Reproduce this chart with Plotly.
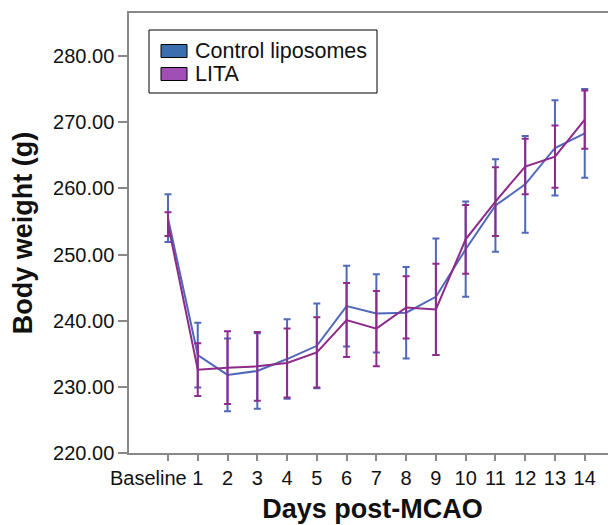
import plotly.graph_objects as go

days = list(range(15))
tick_labels = ["Baseline"] + [str(d) for d in range(1, 15)]

control_mean = [255.5, 234.8, 231.8, 232.4, 234.2, 236.2, 242.2, 241.1, 241.2, 243.6, 250.8, 257.4, 260.6, 266.1, 268.3]
control_err = [3.6, 4.9, 5.5, 5.7, 6.0, 6.4, 6.1, 5.9, 6.9, 8.8, 7.2, 7.0, 7.3, 7.2, 6.7]
lita_mean = [254.6, 232.6, 232.9, 233.1, 233.6, 235.2, 240.1, 238.8, 242.0, 241.7, 252.3, 258.0, 263.3, 264.8, 270.4]
lita_err = [1.8, 4.0, 5.5, 5.2, 5.2, 5.3, 5.6, 5.7, 4.7, 6.9, 5.2, 5.2, 4.2, 4.7, 4.4]

series_names = ["Control liposomes", "LITA"]
line_colors = ["#5068b8", "#8e2a8c"]
patch_colors = ["#3b6eae", "#a24fb5"]

FONT = "Liberation Sans, Arial, sans-serif"

fig = go.Figure()
for name, mean, err, col in zip(series_names, [control_mean, lita_mean], [control_err, lita_err], line_colors):
    fig.add_trace(go.Scatter(x=days, y=mean, mode="lines", name=name, showlegend=False,
                             line=dict(color=col, width=2),
                             error_y=dict(type="data", array=err, color=col, thickness=2, width=3.5)))

# page (browser) pixel -> paper coords; page has an 8px body margin
W, L, T, H = 487, 129, 13, 440
def px(x):
    return (x - L) / W
def py(y):
    return 1 - (y - T) / H

shapes = [dict(type="rect", xref="paper", yref="paper", x0=px(149), x1=px(377), y0=py(30), y1=py(93),
               line=dict(color="black", width=1), fillcolor="white", layer="above")]
annotations = []
rows = [51, 74]
for name, col, yc in zip(series_names, patch_colors, rows):
    shapes.append(dict(type="rect", xref="paper", yref="paper", x0=px(161), x1=px(187),
                       y0=py(yc - 6.5), y1=py(yc + 6.5), line=dict(color="black", width=1),
                       fillcolor=col, layer="above"))
    annotations.append(dict(xref="paper", yref="paper", x=px(193), y=py(yc), xanchor="left", yanchor="middle",
                            text=name, showarrow=False, font=dict(size=21.5, color="#111")))

# first category label sits left of its tick, as in the reference
annotations.append(dict(xref="x", yref="paper", x=days[0], y=0, xanchor="right", yanchor="middle",
                        xshift=21, yshift=-25, text=tick_labels[0], showarrow=False,
                        font=dict(size=20, color="#111")))
axis_text = [""] + tick_labels[1:]

fig.update_layout(
    width=608, height=517,
    margin=dict(l=121, r=0, t=5, b=72),
    paper_bgcolor="white", plot_bgcolor="white",
    font=dict(family=FONT, size=20, color="#111"),
    showlegend=False,
    shapes=shapes, annotations=annotations,
    xaxis=dict(range=[-1.31, 15.05], tickmode="array", tickvals=days, ticktext=axis_text,
               tickangle=0, automargin=False,
               showgrid=False, zeroline=False, showline=True, linecolor="#888", linewidth=1.5,
               mirror=True, ticks="outside", ticklen=6, tickwidth=2, tickcolor="#888",
               tickfont=dict(size=20),
               title=dict(text="<b>Days post-MCAO</b>", font=dict(size=27), standoff=11)),
    yaxis=dict(range=[220, 286.5], tickvals=[220, 230, 240, 250, 260, 270, 280], tickformat=".2f",
               automargin=False,
               showgrid=False, zeroline=False, showline=True, linecolor="#888", linewidth=1.5,
               ticks="outside", ticklen=9, tickwidth=2, tickcolor="#888",
               tickfont=dict(size=20),
               title=dict(text="<b>Body weight (g)</b>", font=dict(size=27), standoff=22)),
)

fig.write_html("out.html")
